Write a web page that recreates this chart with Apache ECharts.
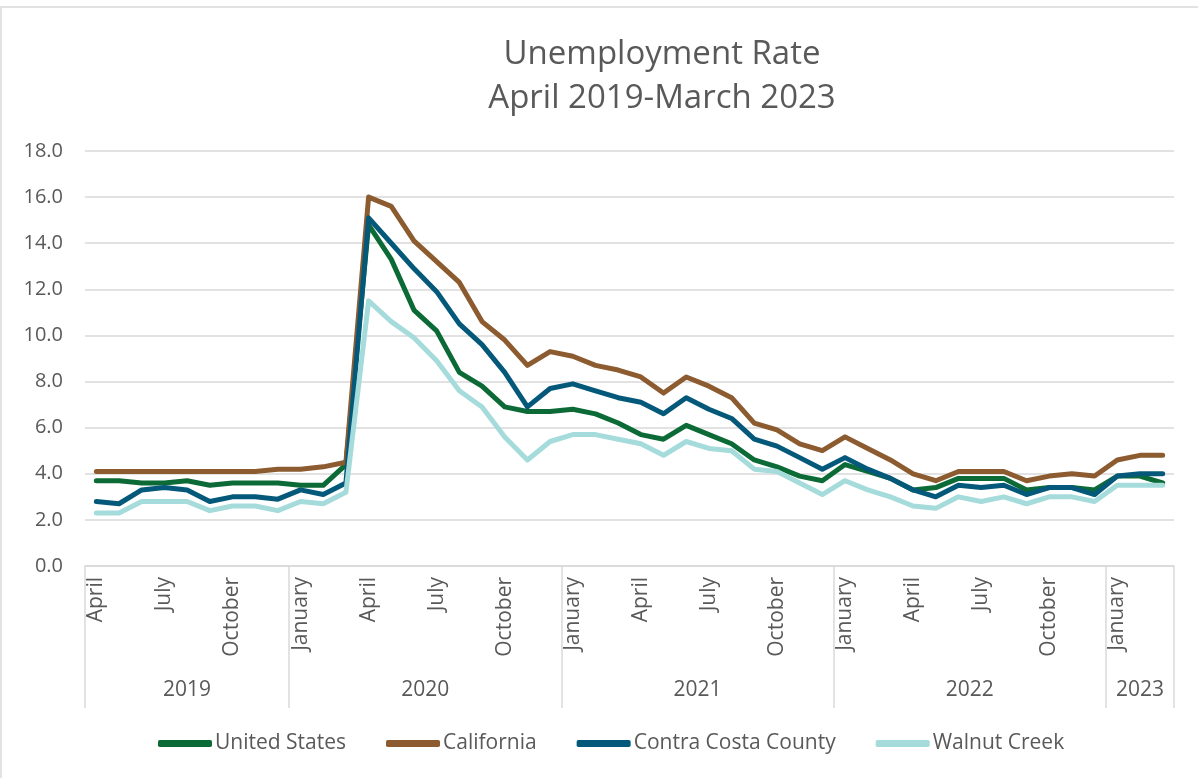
<!DOCTYPE html>
<html>
<head>
<meta charset="utf-8">
<script src="https://cdn.jsdelivr.net/npm/echarts@6/dist/echarts.min.js"></script>
<style>
  html, body { margin: 0; padding: 0; background: #ffffff; }
  #chart { width: 1198px; height: 778px; }
</style>
</head>
<body>
<div id="chart"></div>
<script>
// Monthly unemployment rates (%), April 2019 through March 2023
const monthNames = ['January', 'February', 'March', 'April', 'May', 'June',
  'July', 'August', 'September', 'October', 'November', 'December'];
const months = [];
for (let k = 0; k < 48; k++) {
  months.push(monthNames[(3 + k) % 12] + ' ' + (2019 + Math.floor((3 + k) / 12)));
}
const yearLabels = ['2019', '2020', '2021', '2022', '2023'];
const yearStarts = [0, 9, 21, 33, 45, 48];
const yTicks = [0, 2, 4, 6, 8, 10, 12, 14, 16, 18];

const unitedStates = [3.7, 3.7, 3.6, 3.6, 3.7, 3.5, 3.6, 3.6, 3.6, 3.5, 3.5, 4.4,
  14.8, 13.3, 11.1, 10.2, 8.4, 7.8, 6.9, 6.7, 6.7, 6.8, 6.6, 6.2,
  5.7, 5.5, 6.1, 5.7, 5.3, 4.6, 4.3, 3.9, 3.7, 4.4, 4.1, 3.8,
  3.3, 3.4, 3.8, 3.8, 3.8, 3.3, 3.4, 3.4, 3.3, 3.9, 3.9, 3.6];
const california = [4.1, 4.1, 4.1, 4.1, 4.1, 4.1, 4.1, 4.1, 4.2, 4.2, 4.3, 4.5,
  16.0, 15.6, 14.1, 13.2, 12.3, 10.6, 9.8, 8.7, 9.3, 9.1, 8.7, 8.5,
  8.2, 7.5, 8.2, 7.8, 7.3, 6.2, 5.9, 5.3, 5.0, 5.6, 5.1, 4.6,
  4.0, 3.7, 4.1, 4.1, 4.1, 3.7, 3.9, 4.0, 3.9, 4.6, 4.8, 4.8];
const contraCosta = [2.8, 2.7, 3.3, 3.4, 3.3, 2.8, 3.0, 3.0, 2.9, 3.3, 3.1, 3.6,
  15.1, 14.0, 12.9, 11.9, 10.5, 9.6, 8.4, 6.9, 7.7, 7.9, 7.6, 7.3,
  7.1, 6.6, 7.3, 6.8, 6.4, 5.5, 5.2, 4.7, 4.2, 4.7, 4.2, 3.8,
  3.3, 3.0, 3.5, 3.4, 3.5, 3.1, 3.4, 3.4, 3.1, 3.9, 4.0, 4.0];
const walnutCreek = [2.3, 2.3, 2.8, 2.8, 2.8, 2.4, 2.6, 2.6, 2.4, 2.8, 2.7, 3.2,
  11.5, 10.6, 9.9, 8.9, 7.6, 6.9, 5.6, 4.6, 5.4, 5.7, 5.7, 5.5,
  5.3, 4.8, 5.4, 5.1, 5.0, 4.2, 4.1, 3.6, 3.1, 3.7, 3.3, 3.0,
  2.6, 2.5, 3.0, 2.8, 3.0, 2.7, 3.0, 3.0, 2.8, 3.5, 3.5, 3.5];

const seriesDefs = [
  { name: 'United States', data: unitedStates, color: '#0b6a36' },
  { name: 'California', data: california, color: '#8c5b2f' },
  { name: 'Contra Costa County', data: contraCosta, color: '#04597a' },
  { name: 'Walnut Creek', data: walnutCreek, color: '#a5dbdb' }
];

// Year group centres along the month scale
const yearMids = yearLabels.map((y, i) => (yearStarts[i] + yearStarts[i + 1]) / 2);

const FONT = '"Open Sans", "Noto Sans", sans-serif';
const TEXT = '#595959';
const GRID_LINE = '#d9d9d9';

const chart = echarts.init(document.getElementById('chart'), null, { renderer: 'canvas' });
chart.setOption({
  backgroundColor: '#ffffff',
  animation: false,
  textStyle: { fontFamily: FONT },
  title: {
    text: 'Unemployment Rate\nApril 2019-March 2023',
    left: 657,
    top: 28,
    textAlign: 'center',
    textStyle: { fontFamily: FONT, fontSize: 33, fontWeight: 'normal', color: TEXT, lineHeight: 44 }
  },
  graphic: [{
    type: 'rect',
    shape: { x: 1, y: 7, width: 1300, height: 900 },
    style: { fill: 'none', stroke: GRID_LINE, lineWidth: 1.5 },
    silent: true
  }],
  legend: {
    bottom: 19,
    left: 153,
    itemWidth: 54,
    itemHeight: 7,
    itemGap: 40,
    icon: 'roundRect',
    textStyle: { fontFamily: FONT, fontSize: 21, color: TEXT, padding: [0, 0, 0, -2] },
    data: seriesDefs.map(s => s.name)
  },
  grid: { left: 85, right: 24, top: 151, bottom: 212 },
  xAxis: [{
    type: 'category',
    data: months,
    boundaryGap: true,
    axisLine: { show: true, lineStyle: { color: GRID_LINE, width: 1.5 } },
    axisTick: { show: false },
    axisLabel: {
      interval: 2,
      rotate: 90,
      margin: 11,
      fontFamily: FONT,
      fontSize: 21,
      color: TEXT,
      formatter: v => v.split(' ')[0]
    },
    splitLine: { show: false }
  }, {
    type: 'value',
    min: 0,
    max: 48,
    position: 'bottom',
    axisLine: { show: false },
    axisTick: {
      show: true,
      length: 142,
      customValues: yearStarts,
      lineStyle: { color: GRID_LINE, width: 1.5 }
    },
    axisLabel: {
      show: true,
      customValues: yearMids,
      margin: 114,
      fontFamily: FONT,
      fontSize: 21,
      color: TEXT,
      formatter: v => {
        const i = yearMids.indexOf(v);
        return i >= 0 ? yearLabels[i] : '';
      }
    },
    splitLine: { show: false }
  }],
  yAxis: {
    type: 'value',
    min: yTicks[0],
    max: yTicks[yTicks.length - 1],
    interval: 2,
    axisLine: { show: false },
    axisTick: { show: false },
    axisLabel: {
      margin: 22,
      fontFamily: FONT,
      fontSize: 20,
      color: TEXT,
      formatter: v => v.toFixed(1)
    },
    splitLine: { show: true, lineStyle: { color: GRID_LINE, width: 1.5 } }
  },
  series: seriesDefs.map(s => ({
    name: s.name,
    type: 'line',
    xAxisIndex: 0,
    data: s.data,
    showSymbol: false,
    symbol: 'none',
    color: s.color,
    lineStyle: { width: 5, color: s.color, cap: 'round', join: 'round' },
    emphasis: { disabled: true }
  }))
});
</script>
</body>
</html>
